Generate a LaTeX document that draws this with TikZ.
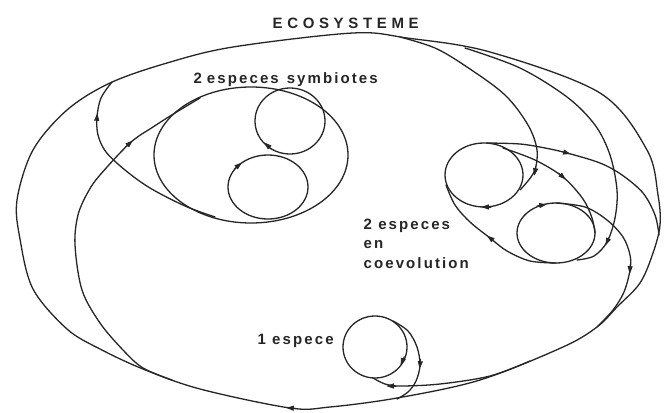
\documentclass[tikz,border=0pt]{standalone}
\usepackage{fontspec}
\setmainfont{Liberation Sans}
\newfontfamily\lblfont[LetterSpace=14]{Liberation Sans}
\newfontfamily\ecofont[LetterSpace=31]{Liberation Sans}
\usetikzlibrary{arrows.meta}
\newcommand\arrowhd[3]{\draw[-{Triangle[length=7.5pt,width=5pt]}, line width=0.8pt] (#1,#2) ++(#3:-6) -- ++(#3:9.75);}
\begin{document}
\begin{tikzpicture}[x=1pt,y=-1pt, line width=1.3pt, line cap=round, line join=round,
  color=black!85,
  lbl/.style={inner sep=0pt, font=\lblfont\bfseries\fontsize{15}{18}\selectfont},
  crv/.style={smooth, tension=0.55}]
\fill[white] (0,0) rectangle (666,412);
\useasboundingbox (0,0) rectangle (666,412);

% outer ecosystem loop
\draw plot[smooth cycle, tension=0.55] coordinates {(353,33) (407,38) (490,52) (600,93) (647,150) (658,195) (660,225) (653,253) (640,283) (617,307) (597,327) (563,347) (480,380) (397,398) (330,407) (290,408) (200,389) (143,369) (100,349) (67,329) (33,289) (20,239) (17,200) (33,150) (67,110) (110,83) (167,63) (233,47)};

% branches from top
\draw plot[crv] coordinates {(400,37) (435,48) (467,67) (505,95) (528,125) (537,150) (534,172) (520,190)};
\draw plot[crv] coordinates {(465,48) (520,68) (567,97) (595,125) (610,155) (617,190) (615,218) (607,242) (594,256) (577,260)};

% coevolution
\draw (484,175) ellipse [x radius=39, y radius=32];
\draw (556,233) ellipse [x radius=39, y radius=30];
\draw plot[crv] coordinates {(487,143) (520,144) (545,148) (567,153) (600,163) (622,175) (643,193) (655,215) (659,235)};
\draw plot[crv] coordinates {(503,148) (535,160) (563,177) (583,199) (592,218) (595,233)};
\draw plot[crv] coordinates {(556,203) (585,207) (607,220) (623,237) (630,255) (630,270) (624,292) (613,310) (597,327)};
\draw plot[crv] coordinates {(556,263) (530,261) (507,251) (490,238) (470,222) (455,205) (446,185)};

% symbiotes
\draw (251,155) ellipse [x radius=97, y radius=68];
\draw (290,121) ellipse [x radius=35, y radius=33];
\draw (268,187) ellipse [x radius=40, y radius=32];
\draw plot[crv] coordinates {(215,217) (185,206) (150,188) (125,170) (106,152) (98,135) (97,117) (101,98) (112,82)};
\draw plot[crv] coordinates {(172,380) (143,368) (123,350) (100,323) (82,290) (75,245) (78,215) (88,192) (100,175) (130,143) (153,127) (175,113) (200,98)};

% 1 espece
\draw (375,347) ellipse [x radius=32, y radius=31];
\draw plot[crv] coordinates {(393,321) (408,331) (417,347) (420,365) (416,381) (408,392) (397,399)};
\draw plot[crv] coordinates {(530,361) (490,376) (440,384) (400,386) (385,384) (373,378)};

% arrowheads
\arrowhd{290}{408}{183}
\arrowhd{97}{117}{275}
\arrowhd{130}{143}{-42}
\arrowhd{267}{145}{223}
\arrowhd{239}{165}{-39}
\arrowhd{535}{172}{100}
\arrowhd{485}{207}{180}
\arrowhd{567}{153}{15}
\arrowhd{563}{177}{42}
\arrowhd{543}{205}{-8}
\arrowhd{607}{242}{115}
\arrowhd{630}{270}{92}
\arrowhd{490}{238}{218}
\arrowhd{402}{362}{112}
\arrowhd{420}{365}{95}
\arrowhd{390}{386}{180}

% labels
\node[lbl, font=\ecofont\bfseries\fontsize{15}{18}\selectfont, anchor=base west] (eco) at (272,29) {ECOSYSTEME};
\node[lbl, anchor=base west] (sym) at (193,83) {2\hspace{5pt}especes\hspace{8pt}symbiotes};
\node[lbl, anchor=base west] (co1) at (363,229) {2 especes};
\node[lbl, anchor=base west] (co2) at (363,248) {en};
\node[lbl, anchor=base west] (co3) at (363,268) {coevolution};
\node[lbl, anchor=base west] (one) at (257,344) {1 espece};
\end{tikzpicture}
\end{document}
